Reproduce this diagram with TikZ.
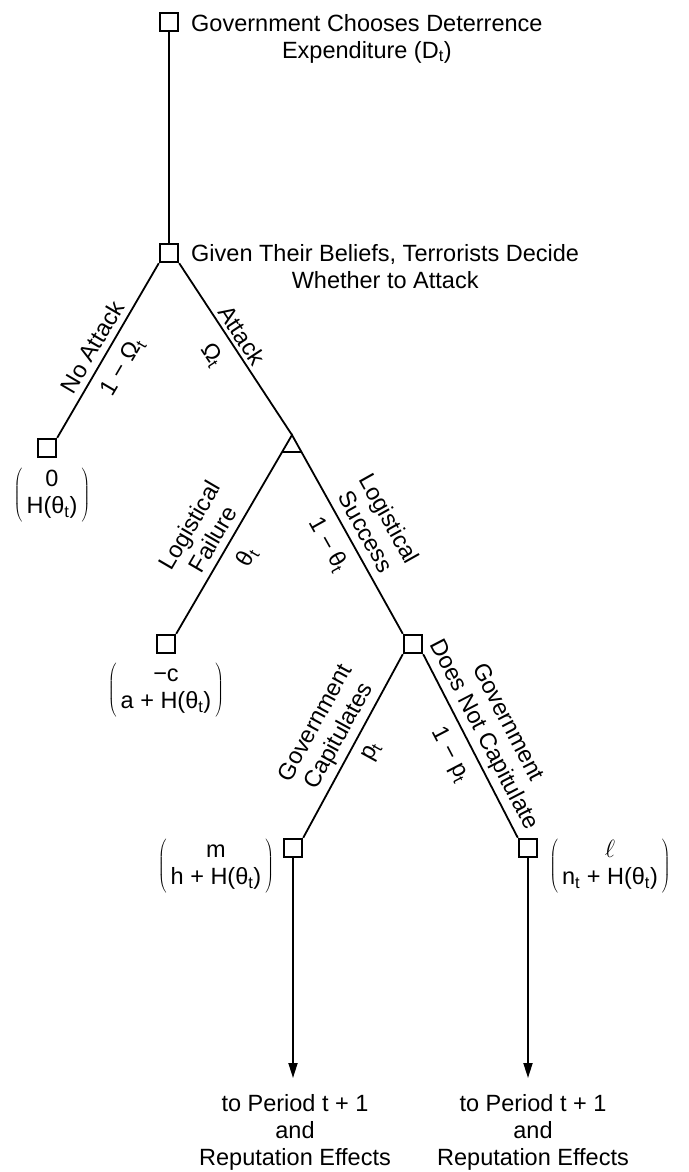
\documentclass[tikz,border=0pt]{standalone}
\usepackage{fontspec}
\setmainfont{Liberation Sans}
\usetikzlibrary{arrows.meta,calc}
\newcommand\sbt{\textsubscript{t}}
\newcommand\payoff[2]{$\left(\,\begin{tabular}{@{}c@{}}#1\\#2\end{tabular}\,\right)$}

\begin{document}
\begin{tikzpicture}[x=1pt,y=1pt,
  every node/.style={font=\fontsize{23.5}{27}\selectfont, inner sep=0pt},
  dec/.style={draw, line width=2.4pt, minimum size=18pt, inner sep=0pt},
  branch/.style={line width=1.8pt},
  endarrow/.style={branch, -{Triangle[length=15pt,width=9pt]}}]
\useasboundingbox (0,0) rectangle (688,-1172);

% decision nodes and leaves
\node[dec] (g1) at (169,-22) {};
\node[dec] (t1) at (169,-253) {};
\node[dec] (na) at (47,-448) {};
\coordinate (ch) at (292,-435);
\node[dec] (lf) at (166,-644) {};
\node[dec] (g2) at (413,-644) {};
\node[dec] (gc) at (293,-848) {};
\node[dec] (gn) at (528,-848) {};
\coordinate (tipL) at (293,-1078);
\coordinate (tipR) at (528,-1078);

% node captions
\node[anchor=north west, align=center] (q1) at (191,-14)
  {Government Chooses Deterrence\\Expenditure (D\sbt)};
\node[anchor=north west, align=center] (q2) at (191,-244)
  {Given Their Beliefs, Terrorists Decide\\Whether to Attack};

% branches
\draw[branch] (g1) -- (t1);
\draw[branch] (t1.south west) -- (na.north east);
\draw[branch] (t1.south east) -- (ch);
\draw[branch, line join=miter] (lf.north east) -- (ch) -- (g2.north west);
\draw[branch] ($(ch)!0.085!(lf.north east)$) -- ($(ch)!0.085!(g2.north west)$);
\draw[branch] (g2.south west) -- (gc.north east);
\draw[branch] (g2.south east) -- (gn.north west);
\draw[endarrow] (gc) -- (tipL);
\draw[endarrow] (gn) -- (tipR);

% branch labels
\node[rotate=59.6] (lNA) at (92,-347) {No Attack};
\node[rotate=59.6] (pNA) at (123,-367) {1 − Ω\sbt};
\node[rotate=-56.6] (lA) at (242,-335) {Attack};
\node[rotate=-56.6] (pA) at (212,-355) {Ω\sbt};
\node[rotate=59.7, align=center] (lLF) at (201,-532) {Logistical\\Failure};
\node[rotate=59.7] (pLF) at (247,-557) {θ\sbt};
\node[rotate=-60.75, align=center] (lLS) at (378,-525) {Logistical\\Success};
\node[rotate=-60.75] (pLS) at (328,-545) {1 − θ\sbt};
\node[rotate=61.3, align=center] (lGC) at (328,-730) {Government\\Capitulates};
\node[rotate=61.3] (pGC) at (372,-752) {p\sbt};
\node[rotate=-62.5, align=center] (lGN) at (495,-729) {Government\\Does Not Capitulate};
\node[rotate=-62.5] (pGN) at (450,-755) {1 − p\sbt};

% payoffs
\node (vNA) at (52,-495) {\payoff{0}{H(θ\sbt)}};
\node (vLF) at (166,-690) {\payoff{−c}{a + H(θ\sbt)}};
\node (vGC) at (216,-866) {\payoff{m}{h + H(θ\sbt)}};
\node (vGN) at (610,-866) {\payoff{$\ell$}{n\sbt{} + H(θ\sbt)}};

% continuation
\node[anchor=north, align=center] (eL) at (295,-1094)
  {to Period t + 1\\and\\Reputation Effects};
\node[anchor=north, align=center] (eR) at (533,-1094)
  {to Period t + 1\\and\\Reputation Effects};
\end{tikzpicture}
\end{document}
